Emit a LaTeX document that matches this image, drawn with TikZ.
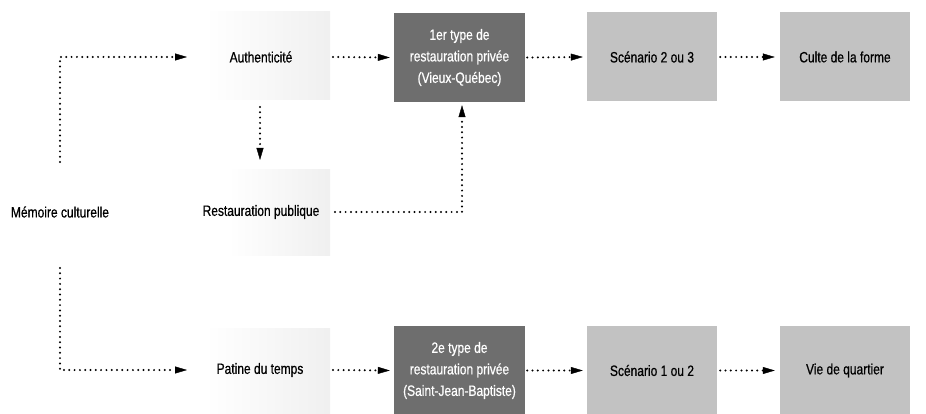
\documentclass[tikz,border=0pt]{standalone}
\usepackage{fontspec}
\setmainfont[FakeStretch=0.8,FakeBold=0.6]{Liberation Sans}
\usetikzlibrary{arrows.meta}
\begin{document}
\begin{tikzpicture}[x=1pt,y=-1pt,
  lbl/.style={font=\fontsize{15}{21.5}\selectfont, inner sep=2pt, align=center},
  darkbox/.style={lbl, fill=black!57, text=white, minimum width=131pt, minimum height=89pt},
  lightbox/.style={lbl, fill=black!24, minimum width=130pt, minimum height=89pt},
  dotline/.style={line width=2.2pt, dash pattern=on 0pt off 5.3pt, line cap=round},
  dotarrow/.style={dotline, -{Triangle[length=12pt,width=7pt,line width=0.4pt,fill=black]}}]
\useasboundingbox (0,0) rectangle (926,414);
% faint speckled backgrounds
\shade[left color=white, right color=black!6] (205,12) rectangle (330,100);
\shade[left color=white, right color=black!6] (228,170) rectangle (330,255);
\shade[left color=white, right color=black!6] (205,328) rectangle (330,414);
% nodes
\node[lbl] (mem) at (60,212) {Mémoire culturelle};
\node[lbl] (auth) at (261,57) {Authenticité};
\node[lbl] (rest) at (261,212) {Restauration publique};
\node[lbl] (pat) at (260,370) {Patine du temps};
\node[darkbox] (t1) at (459.5,57.5) {1er type de\\restauration privée\\(Vieux-Québec)};
\node[lightbox] (s23) at (652,57) {Scénario 2 ou 3};
\node[lightbox] (culte) at (845,57) {Culte de la forme};
\node[darkbox] (t2) at (459.5,370.5) {2e type de\\restauration privée\\(Saint-Jean-Baptiste)};
\node[lightbox] (s12) at (652,370.5) {Scénario 1 ou 2};
\node[lightbox] (vie) at (845,370.5) {Vie de quartier};
% connectors
\draw[dotarrow] ([yshift=50pt]mem.center) |- ([xshift=-74pt]auth.center);
\draw[dotarrow] ([yshift=-56pt]mem.center) |- ([xshift=-73pt]pat.center);
\draw[dotarrow] ([xshift=72pt]auth.center) -- ([xshift=-4pt]t1.west);
\draw[dotarrow] ([xshift=2pt]t1.east) -- ([xshift=-4pt]s23.west);
\draw[dotarrow] ([xshift=3pt]s23.east) -- ([xshift=-5pt]culte.west);
\draw[dotarrow] ([xshift=-1pt,yshift=-50pt]auth.center) -- ([xshift=-1pt,yshift=52pt]rest.center);
\draw[dotarrow] ([xshift=74pt]rest.center) -| ([xshift=2.5pt,yshift=-3pt]t1.south);
\draw[dotarrow] ([xshift=73pt]pat.center) -- ([xshift=-4pt]t2.west);
\draw[dotarrow] ([xshift=2pt]t2.east) -- ([xshift=-4pt]s12.west);
\draw[dotarrow] ([xshift=3pt]s12.east) -- ([xshift=-5pt]vie.west);
\end{tikzpicture}
\end{document}
